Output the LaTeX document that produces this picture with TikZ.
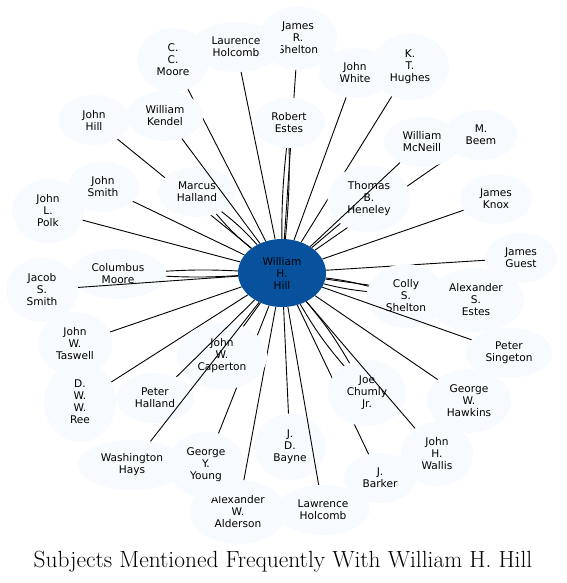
\documentclass[tikz,border=0pt]{standalone}
\usepackage{fontspec}
\usepackage{xcolor}
\usepackage{tikz}
\usetikzlibrary{shapes.geometric}
\newfontfamily\namefont{DejaVu Sans}
\definecolor{hubblue}{RGB}{8,81,156}
\definecolor{namefill}{RGB}{247,251,255}
\tikzset{
  hubnode/.style={
    ellipse,
    fill=hubblue,
    align=center,
    minimum width=88pt,
    minimum height=68pt,
    inner sep=4pt,
    font=\namefont\fontsize{10.6}{12}\selectfont
  },
  namenode/.style={
    ellipse,
    fill=namefill,
    align=center,
    inner xsep=7.5pt,
    inner ysep=6.5pt,
    minimum width=72pt,
    minimum height=50pt,
    font=\namefont\fontsize{10.6}{12}\selectfont
  },
  linkline/.style={
    draw=black,
    line width=0.9pt
  },
  titlelabel/.style={
    anchor=base,
    font=\fontsize{23.4}{28}\selectfont
  }
}

\begin{document}
\begin{tikzpicture}[x=1pt, y=-1pt]
\useasboundingbox (0,0) rectangle (566,583);

\node[hubnode] (hub) at (282,273) {William\\H.\\Hill};

\node[namenode] (shelton) at (298,38) {James\\R.\\Shelton};
\draw[linkline] (hub) -- (shelton);
\node[namenode] (laurence) at (236,47) {Laurence\\Holcomb};
\draw[linkline] (hub) -- (laurence);
\node[namenode] (ccmoore) at (173,60) {C.\\C.\\Moore};
\draw[linkline] (hub) -- (ccmoore);
\node[namenode] (johnhill) at (94,120) {John\\Hill};
\draw[linkline] (hub) -- (johnhill);
\node[namenode] (marcus) at (197,192) {Marcus\\Halland};
\draw[linkline] (hub) to[bend left=5] (marcus);
\draw[linkline] (hub) to[bend right=5] (marcus);
\node[namenode] (kendel) at (165,116) {William\\Kendel};
\draw[linkline] (hub) -- (kendel);
\node[namenode] (restes) at (289,123) {Robert\\Estes};
\draw[linkline] (hub) to[bend left=3] (restes);
\draw[linkline] (hub) to[bend right=3] (restes);
\node[namenode] (white) at (355,73) {John\\White};
\draw[linkline] (hub) -- (white);
\node[namenode] (hughes) at (410,67) {K.\\T.\\Hughes};
\draw[linkline] (hub) -- (hughes);
\node[namenode] (beem) at (481,135) {M.\\Beem};
\draw[linkline] (hub) -- (beem);
\node[namenode] (thomas) at (369,199) {Thomas\\B.\\Heneley};
\draw[linkline] (hub) -- (thomas);
\node[namenode] (mcneill) at (422,142) {William\\McNeill};
\draw[linkline] (hub) -- (mcneill);
\node[namenode] (knox) at (496,199) {James\\Knox};
\draw[linkline] (hub) -- (knox);
\node[namenode] (guest) at (521,258) {James\\Guest};
\draw[linkline] (hub) -- (guest);
\node[namenode] (aestes) at (476,300) {Alexander\\S.\\Estes};
\draw[linkline] (hub) -- (aestes);
\node[namenode] (colly) at (406,296) {Colly\\S.\\Shelton};
\draw[linkline] (hub) to[bend left=4] (colly);
\draw[linkline] (hub) to[bend right=4] (colly);
\node[namenode] (singeton) at (509,353) {Peter\\Singeton};
\draw[linkline] (hub) -- (singeton);
\node[namenode] (hawkins) at (469,401) {George\\W.\\Hawkins};
\draw[linkline] (hub) -- (hawkins);
\node[namenode] (barker) at (380,478) {J.\\Barker};
\draw[linkline] (hub) -- (barker);
\node[namenode] (chumly) at (367,393) {Joe\\Chumly\\Jr.};
\draw[linkline] (hub) to[bend left=5] (chumly);
\draw[linkline] (hub) to[bend right=5] (chumly);
\node[namenode] (wallis) at (437,454) {John\\H.\\Wallis};
\draw[linkline] (hub) -- (wallis);
\node[namenode] (alderson) at (238,512) {Alexander\\W.\\Alderson};
\draw[linkline] (hub) -- (alderson);
\node[namenode] (bayne) at (290,447) {J.\\D.\\Bayne};
\draw[linkline] (hub) -- (bayne);
\node[namenode] (lholcomb) at (323,510) {Lawrence\\Holcomb};
\draw[linkline] (hub) -- (lholcomb);
\node[namenode] (gyoung) at (206,465) {George\\Y.\\Young};
\draw[linkline] (hub) -- (gyoung);
\node[namenode] (ree) at (80,402) {D.\\W.\\W.\\Ree};
\draw[linkline] (hub) -- (ree);
\node[namenode] (caperton) at (222,356) {John\\W.\\Caperton};
\draw[linkline] (hub) -- (caperton);
\node[namenode] (phalland) at (155,398) {Peter\\Halland};
\draw[linkline] (hub) -- (phalland);
\node[namenode] (washington) at (132,465) {Washington\\Hays};
\draw[linkline] (hub) -- (washington);
\node[namenode] (taswell) at (75,344) {John\\W.\\Taswell};
\draw[linkline] (hub) -- (taswell);
\node[namenode] (columbus) at (118,274) {Columbus\\Moore};
\draw[linkline] (hub) to[bend left=3] (columbus);
\draw[linkline] (hub) to[bend right=3] (columbus);
\node[namenode] (jacob) at (42,290) {Jacob\\S.\\Smith};
\draw[linkline] (hub) -- (jacob);
\node[namenode] (polk) at (48,211) {John\\L.\\Polk};
\draw[linkline] (hub) -- (polk);
\node[namenode] (jsmith) at (103,187) {John\\Smith};
\draw[linkline] (hub) -- (jsmith);

\node[titlelabel] (title) at (283,567) {Subjects Mentioned Frequently With William H. Hill};
\end{tikzpicture}
\end{document}
